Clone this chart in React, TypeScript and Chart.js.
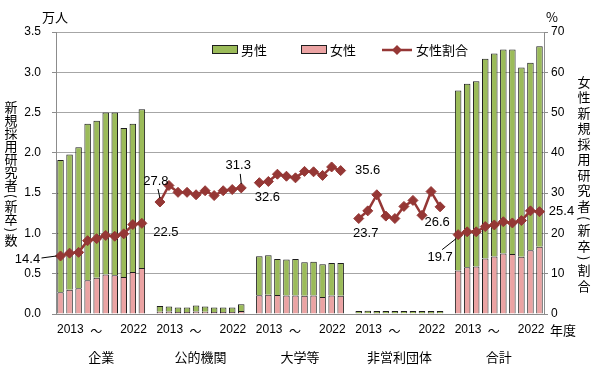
import React, { useEffect, useRef } from 'react';
import { Chart, registerables } from 'chart.js';

Chart.register(...registerables);

// ---- data ----
const groups = ['企業', '公的機関', '大学等', '非営利団体', '合計'];
const years = ['2013', '2014', '2015', '2016', '2017', '2018', '2019', '2020', '2021', '2022'];

// 万人
const femaleCorp = [0.27, 0.30, 0.32, 0.42, 0.45, 0.49, 0.48, 0.46, 0.52, 0.57];
const maleCorp = [1.64, 1.68, 1.75, 1.94, 1.95, 2.01, 2.02, 1.85, 1.84, 1.97];
const femalePublic = [0.028, 0.030, 0.025, 0.025, 0.032, 0.029, 0.024, 0.025, 0.025, 0.037];
const malePublic = [0.072, 0.064, 0.057, 0.057, 0.075, 0.065, 0.058, 0.057, 0.057, 0.083];
const femaleUniv = [0.233, 0.240, 0.237, 0.231, 0.231, 0.227, 0.229, 0.212, 0.231, 0.226];
const maleUniv = [0.483, 0.488, 0.446, 0.444, 0.452, 0.414, 0.421, 0.404, 0.403, 0.408];
const femaleNonprofit = [0.009, 0.010, 0.011, 0.009, 0.009, 0.010, 0.010, 0.009, 0.011, 0.010];
const maleNonprofit = [0.029, 0.029, 0.027, 0.028, 0.029, 0.028, 0.026, 0.028, 0.026, 0.028];
const femaleTotal = [0.54, 0.58, 0.59, 0.69, 0.715, 0.75, 0.745, 0.71, 0.79, 0.835];
const maleTotal = [2.234, 2.277, 2.30, 2.478, 2.519, 2.533, 2.538, 2.35, 2.328, 2.489];

// %
const ratioCorp = [14.4, 15.1, 15.3, 18.2, 18.7, 19.5, 19.3, 19.9, 22.2, 22.5];
const ratioPublic = [27.8, 31.9, 30.2, 30.2, 29.6, 30.6, 29.4, 30.6, 30.9, 31.3];
const ratioUniv = [32.6, 32.9, 34.7, 34.2, 33.8, 35.4, 35.3, 34.4, 36.5, 35.6];
const ratioNonprofit = [23.7, 25.6, 29.6, 24.3, 23.7, 26.7, 28.2, 24.5, 30.4, 26.6];
const ratioTotal = [19.7, 20.4, 20.4, 21.7, 22.1, 22.9, 22.6, 23.2, 25.6, 25.4];

const leftMax = 3.5;
const leftStep = 0.5;
const rightMax = 70;
const rightStep = 10;

const legendLabels = ['男性', '女性', '女性割合'];
const leftUnit = '万人';
const rightUnit = '%';
const xUnit = '年度';
const leftTitle = '新規採用研究者(新卒)数';
const rightTitle = '女性新規採用研究者(新卒)割合';

// ---- helpers ----
const labels: string[] = [];
groups.forEach((g, i) => {
  if (i > 0) labels.push('gap' + i);
  years.forEach((y) => labels.push(g + ' ' + y));
});

function barPoints(arrs: number[][]) {
  const out: { x: string; y: number }[] = [];
  arrs.forEach((a, gi) => a.forEach((v, k) => out.push({ x: groups[gi] + ' ' + years[k], y: v })));
  return out;
}

function joinGroups(arrs: number[][]): (number | null)[] {
  const out: (number | null)[] = [];
  arrs.forEach((a, i) => {
    if (i > 0) out.push(null);
    out.push(...a);
  });
  return out;
}

const femaleData = barPoints([femaleCorp, femalePublic, femaleUniv, femaleNonprofit, femaleTotal]);
const maleData = barPoints([maleCorp, malePublic, maleUniv, maleNonprofit, maleTotal]);
const ratioData = joinGroups([ratioCorp, ratioPublic, ratioUniv, ratioNonprofit, ratioTotal]);

const GREEN = '#9BBB59';
const PINK = '#EBA3A3';
const RED = '#953735';
const BORDER = '#1e1e1e';
const AXIS = '#8c8c8c';
const GRID = '#a6a6a6';
const NUM = '"Liberation Sans", Arial, sans-serif';
const JP = '"Noto Sans CJK JP", "Noto Sans", sans-serif';

// label annotations: [group, first(0)/last(1), dx, dy, leader]
const annots: [number, number, number, number, boolean][] = [
  [0, 0, -33, 3, true],
  [0, 1, 24, 9, false],
  [1, 0, -4, -21, true],
  [1, 1, -3, -22, true],
  [2, 0, 8, 15, false],
  [2, 1, 27, 0, false],
  [3, 0, 7, 15, false],
  [3, 1, -3, 16, false],
  [4, 0, -18, 23, true],
  [4, 1, 22, 0, false],
];

function drawVertical(ctx: CanvasRenderingContext2D, text: string, x: number, yc: number, pitch: number, parenPitch: number) {
  const chars = Array.from(text);
  const heights = chars.map((c) => (c === '(' || c === ')' ? parenPitch : pitch));
  const total = heights.reduce((a, b) => a + b, 0);
  let y = yc - total / 2;
  chars.forEach((c, i) => {
    const h = heights[i];
    const cy = y + h / 2;
    ctx.save();
    ctx.translate(x, cy);
    if (c === '(' || c === ')') ctx.rotate(Math.PI / 2);
    ctx.textAlign = 'center';
    ctx.textBaseline = 'middle';
    ctx.fillText(c, 0, 0);
    ctx.restore();
    y += h;
  });
}

const overlayPlugin = {
  id: 'overlay',
  afterDraw(chart: any) {
    const ctx: CanvasRenderingContext2D = chart.ctx;
    const xs = chart.scales.x;
    const meta = chart.getDatasetMeta(2);
    ctx.save();
    ctx.fillStyle = '#000';

    // axis units
    ctx.font = `13px ${JP}`;
    ctx.textBaseline = 'middle';
    ctx.textAlign = 'left';
    ctx.fillText(leftUnit, 42, 17);
    ctx.fillText(rightUnit, 546, 17);

    // vertical titles
    ctx.font = `13px ${JP}`;
    drawVertical(ctx, leftTitle, 11, 174, 13, 8);
    drawVertical(ctx, rightTitle, 584, 184, 15.5, 9);

    // x labels
    groups.forEach((g, gi) => {
      const i0 = gi * 11;
      const i1 = i0 + 9;
      const x0 = xs.getPixelForValue(i0);
      const x1 = xs.getPixelForValue(i1);
      const cx = (x0 + x1) / 2;
      ctx.font = `12px ${NUM}`;
      ctx.textBaseline = 'middle';
      ctx.textAlign = 'left';
      ctx.fillText(years[0], x0 - 3.5, 330);
      ctx.textAlign = 'right';
      ctx.fillText(years[years.length - 1], x1 + 5, 330);
      ctx.textAlign = 'center';
      ctx.font = `12px ${JP}`;
      ctx.fillText('～', cx - 5, 331);
      ctx.font = `13px ${JP}`;
      ctx.fillText(g, cx, 357);
    });
    ctx.font = `13px ${JP}`;
    ctx.textAlign = 'left';
    ctx.fillText(xUnit, 550, 330);

    // data labels
    ctx.font = `13px ${NUM}`;
    annots.forEach(([g, which, dx, dy, leader]) => {
      const idx = g * 11 + (which === 0 ? 0 : 9);
      const pt = meta.data[idx];
      const v = ratioData[idx] as number;
      const lx = pt.x + dx;
      const ly = pt.y + dy;
      ctx.textAlign = 'center';
      ctx.textBaseline = 'middle';
      ctx.fillStyle = '#000';
      ctx.fillText(v.toFixed(1), lx, ly);
      if (leader) {
        ctx.strokeStyle = '#000';
        ctx.lineWidth = 1;
        ctx.beginPath();
        if (Math.abs(dx) > Math.abs(dy)) {
          ctx.moveTo(lx + 14 * Math.sign(-dx), ly - 1);
          ctx.lineTo(pt.x + 4 * Math.sign(dx), pt.y);
        } else {
          const sy = Math.sign(dy);
          ctx.moveTo(lx + 2, ly - sy * 8);
          ctx.lineTo(pt.x + (dx < -10 ? -2 : 0), pt.y + sy * 4);
        }
        ctx.stroke();
      }
    });

    // legend
    const ly = 50;
    ctx.lineWidth = 1;
    ctx.strokeStyle = BORDER;
    ctx.fillStyle = GREEN;
    ctx.fillRect(212.5, ly - 4.5, 25, 8);
    ctx.strokeRect(212.5, ly - 4.5, 25, 8);
    ctx.fillStyle = PINK;
    ctx.fillRect(301.5, ly - 4.5, 25, 8);
    ctx.strokeRect(301.5, ly - 4.5, 25, 8);
    ctx.strokeStyle = RED;
    ctx.lineWidth = 2.5;
    ctx.beginPath();
    ctx.moveTo(382, ly);
    ctx.lineTo(412, ly);
    ctx.stroke();
    ctx.fillStyle = RED;
    ctx.beginPath();
    ctx.moveTo(397 - 5, ly);
    ctx.lineTo(397, ly - 5);
    ctx.lineTo(397 + 5, ly);
    ctx.lineTo(397, ly + 5);
    ctx.closePath();
    ctx.fill();
    ctx.fillStyle = '#000';
    ctx.font = `13px ${JP}`;
    ctx.textAlign = 'left';
    ctx.textBaseline = 'middle';
    ctx.fillText(legendLabels[0], 241, ly);
    ctx.fillText(legendLabels[1], 330, ly);
    ctx.fillText(legendLabels[2], 416, ly);

    ctx.restore();
  },
};

export default function App() {
  const ref = useRef<HTMLCanvasElement | null>(null);
  useEffect(() => {
    if (!ref.current) return;
    const chart = new Chart(ref.current, {
      type: 'bar',
      data: {
        labels,
        datasets: [
          {
            type: 'bar',
            label: legendLabels[1],
            data: femaleData,
            backgroundColor: PINK,
            borderColor: BORDER,
            borderWidth: 1,
            barPercentage: 0.72,
            categoryPercentage: 1,
            yAxisID: 'y',
            stack: 's',
            order: 2,
          } as any,
          {
            type: 'bar',
            label: legendLabels[0],
            data: maleData,
            backgroundColor: GREEN,
            borderColor: BORDER,
            borderWidth: 1,
            barPercentage: 0.72,
            categoryPercentage: 1,
            yAxisID: 'y',
            stack: 's',
            order: 2,
          } as any,
          {
            type: 'line',
            label: legendLabels[2],
            data: ratioData,
            borderColor: RED,
            backgroundColor: RED,
            borderWidth: 2.5,
            pointStyle: 'rectRot',
            pointRadius: 5,
            pointBorderWidth: 1,
            pointBackgroundColor: RED,
            pointBorderColor: RED,
            spanGaps: false,
            yAxisID: 'y1',
            order: 0,
          } as any,
        ],
      },
      options: {
        responsive: false,
        animation: false,
        devicePixelRatio: 1,
        layout: { padding: { top: 32, left: 0, right: 0, bottom: 0 } },
        plugins: { legend: { display: false }, tooltip: { enabled: false } },
        scales: {
          x: {
            type: 'category',
            stacked: true,
            grid: { display: false, drawTicks: false },
            border: { display: true, color: AXIS },
            ticks: { display: false },
            afterFit: (s: any) => {
              s.height = 64;
            },
          },
          y: {
            stacked: true,
            position: 'left',
            min: 0,
            max: leftMax,
            ticks: {
              stepSize: leftStep,
              callback: (v: any) => Number(v).toFixed(1),
              color: '#000',
              font: { family: NUM, size: 12 },
              padding: 11,
            },
            grid: { color: GRID, tickLength: 4, tickColor: AXIS },
            border: { color: AXIS },
            afterFit: (s: any) => {
              s.width = 56;
            },
          },
          y1: {
            position: 'right',
            min: 0,
            max: rightMax,
            ticks: {
              stepSize: rightStep,
              color: '#000',
              font: { family: NUM, size: 12 },
              padding: 3,
            },
            grid: { drawOnChartArea: false, tickLength: 4, tickColor: AXIS },
            border: { color: AXIS },
            afterFit: (s: any) => {
              s.width = 56;
            },
          },
        },
      } as any,
      plugins: [overlayPlugin],
    });
    return () => chart.destroy();
  }, []);
  return (
    <div style={{ position: 'absolute', left: 0, top: 0, width: 600, height: 378, background: '#fff' }}>
      <canvas ref={ref} width={600} height={378} />
    </div>
  );
}
